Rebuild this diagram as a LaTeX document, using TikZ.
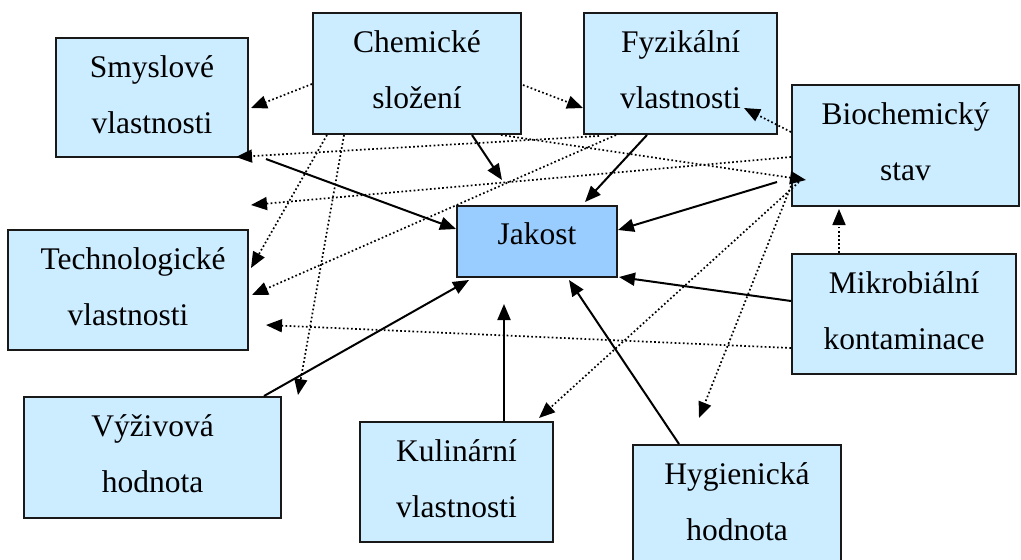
\documentclass[tikz,border=0pt]{standalone}
\usepackage{fontspec}
\setmainfont{Liberation Serif}
\newfontfamily\labelfont{Liberation Serif}
\usetikzlibrary{arrows.meta,calc}
\definecolor{boxblue}{HTML}{CCECFF}
\definecolor{coreblue}{HTML}{99CCFF}
\begin{document}
\begin{tikzpicture}[x=1pt,y=-1pt,
  box/.style={draw=black!90, line width=2pt, fill=boxblue, inner sep=0pt,
    anchor=north, text height=39pt, font=\labelfont\fontsize{31.5}{56}\selectfont},
  link/.style={line width=2pt, -{Triangle[length=16pt,width=13pt]}},
  dotlink/.style={line width=1.7pt, dash pattern=on 1.7pt off 2.4pt,
    -{Triangle[length=16pt,width=13pt]}},
]
\useasboundingbox (0,0) rectangle (1021,560);
\clip (0,0) rectangle (1021,560);

% factor boxes
\node[box, minimum width=192pt, text depth=80pt] (sm) at (152,37)
  {\parbox[t]{180pt}{\centering Smyslové\\vlastnosti}};
\node[box, minimum width=208pt, text depth=82pt] (ch) at (417,12)
  {\parbox[t]{180pt}{\centering Chemické\\složení}};
\node[box, minimum width=193pt, text depth=82pt] (fy) at (680.5,12)
  {\parbox[t]{180pt}{\centering Fyzikální\\vlastnosti}};
\node[box, minimum width=227pt, text depth=82pt] (bio) at (905.5,84)
  {\parbox[t]{180pt}{\centering Biochemický\\stav}};
\node[box, minimum width=240pt, text depth=81pt] (tech) at (128,229)
  {\parbox[t]{220pt}{\centering \hspace*{10pt}Technologické\\vlastnosti}};
\node[box, minimum width=160pt, text height=38pt, text depth=33pt, fill=coreblue] (jak) at (537,205)
  {Jakost};
\node[box, minimum width=224pt, text depth=81pt] (mik) at (904,253)
  {\parbox[t]{180pt}{\centering Mikrobiální\\kontaminace}};
\node[box, minimum width=257pt, text depth=82pt] (vyz) at (152.5,396)
  {\parbox[t]{180pt}{\centering Výživová\\hodnota}};
\node[box, minimum width=193pt, text depth=81pt] (kul) at (456.5,421)
  {\parbox[t]{180pt}{\centering Kulinární\\vlastnosti}};
\node[box, minimum width=208pt, text depth=81pt] (hyg) at (737,444)
  {\parbox[t]{180pt}{\centering Hygienická\\hodnota}};

% direct influences on quality
\draw[link] ($(sm.south east)+(17,1)$) -- ($(jak.north west)+(0,24)$);
\draw[link] ($(ch.south west)+(160,0)$) -- ($(jak.north west)+(46,-25)$);
\draw[link] ($(fy.south west)+(64,0)$) -- ($(jak.north west)+(129,-3)$);
\draw[link] ($(bio.west)+(-14,36.5)$) -- ($(jak.east)+(0,-11.5)$);
\draw[link] ($(mik.west)+(0,-13)$) -- ($(jak.south east)+(1,-1)$);
\draw[link] ($(hyg.north west)+(47,0)$) -- ($(jak.south west)+(113,2)$);
\draw[link] ($(kul.north west)+(145,0)$) -- ($(jak.south west)+(48,26)$);
\draw[link] ($(vyz.north west)+(241,0)$) -- ($(jak.south west)+(13,2)$);

% indirect relations between factors
\draw[dotlink] ($(ch.north west)+(0,72)$) -- ($(sm.north east)+(2,71)$);
\draw[dotlink] ($(ch.north east)+(1,73)$) -- ($(fy.north west)+(0,96)$);
\draw[dotlink] ($(bio.north west)+(0,48)$) -- ($(fy.north west)+(161,96)$);
\draw[dotlink] ($(fy.south west)+(16,1)$) -- ($(sm.south east)+(-13,-1)$);
\draw[dotlink] ($(ch.south east)+(-21,0)$) -- ($(bio.north west)+(15,96)$);
\draw[dotlink] ($(bio.north west)+(0,73)$) -- ($(sm.south east)+(2,47)$);
\draw[dotlink] ($(ch.south west)+(15,0)$) -- ($(tech.north east)+(2,39)$);
\draw[dotlink] ($(ch.south west)+(32,0)$) -- ($(vyz.north east)+(16,-1)$);
\draw[dotlink] ($(fy.south west)+(33,0)$) -- ($(tech.north east)+(3,66)$);
\draw[dotlink] ($(mik.north west)+(0,95)$) -- ($(tech.north east)+(17,96)$);
\draw[dotlink] ($(bio.north west)+(8,98)$) -- ($(kul.north east)+(-15,-3)$);
\draw[dotlink] ($(bio.north west)+(0,102)$) -- ($(hyg.north west)+(67,-26)$);
\draw[dotlink] ($(mik.north west)+(48,0)$) -- ($(bio.south west)+(48,2)$);
\end{tikzpicture}
\end{document}
